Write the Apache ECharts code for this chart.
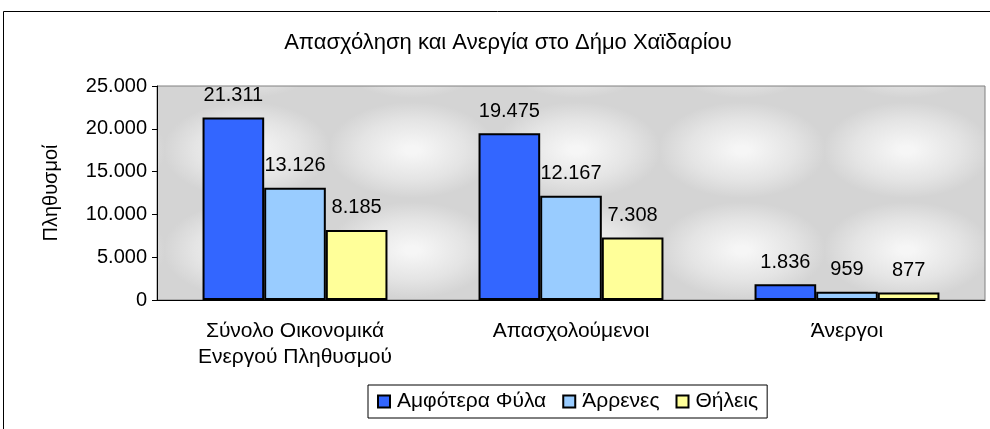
<!DOCTYPE html>
<html><head><meta charset="utf-8">
<script src="https://cdn.jsdelivr.net/npm/echarts@6/dist/echarts.min.js"></script>
<style>html,body{margin:0;padding:0;background:#fff}#c{width:990px;height:429px}</style>
</head><body><div id="c"></div>
<script>
const titleText = 'Απασχόληση και Ανεργία στο Δήμο Χαϊδαρίου';
const categories = ['Σύνολο Οικονομικά\nΕνεργού Πληθυσμού', 'Απασχολούμενοι', 'Άνεργοι'];
const seriesNames = ['Αμφότερα Φύλα', 'Άρρενες', 'Θήλεις'];
const both = [21311, 19475, 1836];
const male = [13126, 12167, 959];
const female = [8185, 7308, 877];
const colors = ['#3366FF', '#99CCFF', '#FFFF99'];

function fmt(v){ return String(v).replace(/\B(?=(\d{3})+(?!\d))/g, '.'); }

// texture tile
const tile = document.createElement('canvas');
tile.width = 165; tile.height = 100;
const tc = tile.getContext('2d');
tc.fillStyle = '#D4D4D4'; tc.fillRect(0,0,165,100);
const g = tc.createRadialGradient(82,50,5,82,50,60);
g.addColorStop(0,'#F6F6F6'); g.addColorStop(0.6,'#E4E4E4'); g.addColorStop(1,'#D4D4D4');
tc.save(); tc.translate(82,50); tc.scale(1.4,0.8); tc.translate(-82,-50);
tc.fillStyle = g; tc.fillRect(-50,-50,265,200); tc.restore();

const font = 'Liberation Sans, Arial, sans-serif';
const chart = echarts.init(document.getElementById('c'));
const mk = (name, data, i) => ({
  name, type: 'bar', data, barGap: '0%', barCategoryGap: '33%',
  itemStyle: { color: colors[i], borderColor: '#000', borderWidth: 2 },
  label: { show: true, position: 'top', distance: 12, fontFamily: font, fontSize: 20, color: '#000', formatter: p => fmt(p.value) }
});
chart.setOption({
  animation: false,
  graphic: [
    { type: 'rect', shape: { x: 3.5, y: 11.5, width: 1000, height: 430 }, style: { fill: 'none', stroke: '#000', lineWidth: 1 }, silent: true },
    { type: 'text', x: 508, y: 43, style: { text: titleText, font: '22px ' + font, fill: '#000', textAlign: 'center', textVerticalAlign: 'middle' }, silent: true }
  ],
  legend: { top: 385, left: 368, itemWidth: 12, itemHeight: 12, itemGap: 16, icon: 'rect',
    borderColor: '#000', borderWidth: 1, padding: [6, 9, 6, 9],
    textStyle: { fontFamily: font, fontSize: 21, color: '#000', padding: [0, 0, 0, 2] }, data: seriesNames },
  grid: { left: 157, right: 5, top: 86, bottom: 129, show: true, borderColor: '#808080', borderWidth: 1,
    backgroundColor: { image: tile, repeat: 'repeat' } },
  xAxis: { type: 'category', data: categories,
    axisLine: { lineStyle: { color: '#000' } }, axisTick: { length: 5, lineStyle: { color: '#000' } },
    axisLabel: { fontFamily: font, fontSize: 21, color: '#000', margin: 18, lineHeight: 26 } },
  yAxis: { type: 'value', min: 0, max: 25000, interval: 5000, name: 'Πληθυσμοί', nameLocation: 'middle', nameGap: 96,
    nameTextStyle: { fontFamily: font, fontSize: 20, color: '#000' },
    axisLine: { show: true, lineStyle: { color: '#000' } }, axisTick: { show: true, length: 5, lineStyle: { color: '#000' } },
    splitLine: { show: false },
    axisLabel: { fontFamily: font, fontSize: 20, color: '#000', margin: 10, formatter: v => fmt(v) } },
  series: [mk(seriesNames[0], both, 0), mk(seriesNames[1], male, 1), mk(seriesNames[2], female, 2)]
});
</script></body></html>
